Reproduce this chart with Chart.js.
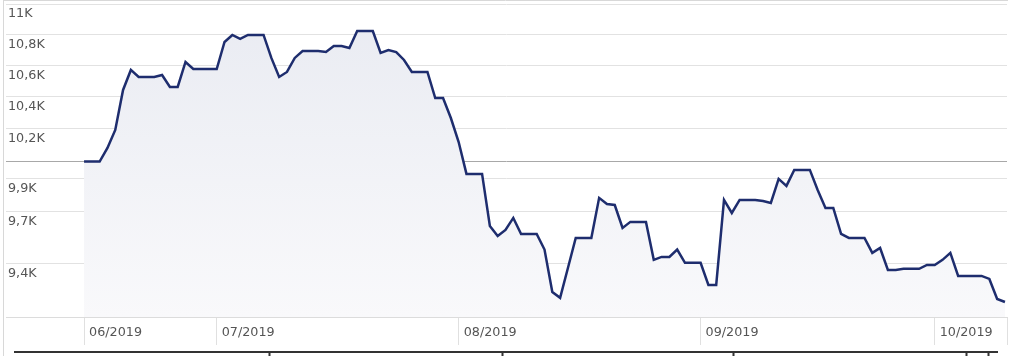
<!DOCTYPE html>
<html>
<head>
<meta charset="utf-8">
<script src="https://cdn.jsdelivr.net/npm/chart.js@4/dist/chart.umd.min.js"></script>
<style>
  html, body { margin: 0; padding: 0; background: #ffffff; }
  #wrap { width: 1010px; height: 356px; }
</style>
</head>
<body>
<div id="wrap"><canvas id="c" width="1010" height="356"></canvas></div>
<script>
// ---- data (daily values, 14 June 2019 .. 10 October 2019) ----
const startDate = '2019-06-14';
const values = [
  10000, 10000, 10000, 10083, 10193, 10443, 10570, 10525, 10525, 10525,
  10538, 10462, 10462, 10621, 10576, 10576, 10576, 10576, 10750, 10796,
  10770, 10796, 10796, 10796, 10647, 10525, 10557, 10647, 10692, 10692,
  10692, 10685, 10724, 10724, 10711, 10822, 10822, 10822, 10679, 10698,
  10685, 10634, 10557, 10557, 10557, 10392, 10392, 10267, 10119, 9926,
  9926, 9926, 9618, 9560, 9595, 9665, 9572, 9572, 9572, 9482,
  9242, 9209, 9377, 9549, 9549, 9549, 9783, 9747, 9741, 9607,
  9642, 9642, 9642, 9423, 9440, 9440, 9482, 9406, 9406, 9406,
  9281, 9281, 9771, 9694, 9771, 9771, 9771, 9765, 9753, 9896,
  9854, 9950, 9950, 9950, 9830, 9724, 9724, 9572, 9549, 9549,
  9549, 9463, 9491, 9366, 9366, 9372, 9372, 9372, 9394, 9394,
  9423, 9463, 9332, 9332, 9332, 9332, 9315, 9203, 9186
];
const xTickDates  = ['2019-06-14', '2019-07-01', '2019-08-01', '2019-09-01', '2019-10-01'];
const xTickLabels = ['06/2019', '07/2019', '08/2019', '09/2019', '10/2019'];
const yTickValues = [9400, 9700, 9900, 10200, 10400, 10600, 10800, 11000];
const yTickLabels = ['9,4K', '9,7K', '9,9K', '10,2K', '10,4K', '10,6K', '10,8K', '11K'];
const baseValue = 10000;
const yMin = 9103, yMax = 11000;

// ---- helpers ----
const DAY = 86400000;
const dayIndex = d => Math.round((Date.parse(d) - Date.parse(startDate)) / DAY);
const xTickPos = xTickDates.map(dayIndex);
const points = values.map((v, i) => ({ x: i, y: v }));
const xMin = -10, xMax = values.length - 1 + 0.26;

const FONT = { family: "'DejaVu Sans', Verdana, sans-serif", size: 12.75 };
const TEXT = '#555555';

const decor = {
  id: 'decor',
  afterDraw(chart) {
    const ctx = chart.ctx;
    ctx.save();
    // outer frame (left + top)
    ctx.strokeStyle = '#d8d8d8';
    ctx.lineWidth = 1;
    ctx.beginPath();
    ctx.moveTo(3.5, 0); ctx.lineTo(3.5, 356);
    ctx.moveTo(3, 0.5); ctx.lineTo(1008, 0.5);
    ctx.stroke();
    // navigator edge at the bottom
    ctx.strokeStyle = '#333333';
    ctx.lineWidth = 2;
    ctx.beginPath();
    ctx.moveTo(14, 352); ctx.lineTo(998, 352);
    [269.5, 502.5, 733.5, 966.5, 988.5].forEach(x => { ctx.moveTo(x, 352); ctx.lineTo(x, 356); });
    ctx.stroke();
    ctx.restore();
  }
};

new Chart(document.getElementById('c'), {
  type: 'line',
  data: {
    datasets: [{
      data: points,
      borderColor: '#1e2d6e',
      borderWidth: 2.5,
      pointRadius: 0,
      pointHoverRadius: 0,
      tension: 0,
      fill: 'start',
      backgroundColor: (ctx) => {
        const ca = ctx.chart.chartArea;
        if (!ca) return '#eef0f5';
        const g = ctx.chart.ctx.createLinearGradient(0, ca.top, 0, ca.bottom);
        g.addColorStop(0, '#e9ebf2');
        g.addColorStop(1, '#f9f9fb');
        return g;
      }
    }]
  },
  options: {
    responsive: false,
    animation: false,
    devicePixelRatio: 1,
    layout: { padding: { left: 6, top: 4, right: 3, bottom: 0 } },
    plugins: { legend: { display: false }, tooltip: { enabled: false } },
    scales: {
      x: {
        type: 'linear',
        min: xMin,
        max: xMax,
        afterBuildTicks: s => { s.ticks = xTickPos.concat([xMax]).map(v => ({ value: v })); },
        afterFit: s => { s.height = 39; s.paddingLeft = 0; s.paddingRight = 0; },
        grid: { drawOnChartArea: false, drawTicks: true, tickLength: 28, color: '#e0e0e0', lineWidth: 1 },
        border: { display: true, color: '#dcdcdc', width: 1 },
        ticks: {
          autoSkip: false,
          maxRotation: 0,
          align: 'start',
          labelOffset: 5,
          padding: -20,
          color: TEXT,
          font: FONT,
          callback: v => { const k = xTickPos.indexOf(v); return k >= 0 ? xTickLabels[k] : ''; }
        }
      },
      y: {
        type: 'logarithmic',
        min: yMin,
        max: yMax,
        afterBuildTicks: s => { s.ticks = yTickValues.concat([baseValue]).sort((a, b) => a - b).map(v => ({ value: v })); },
        afterFit: s => { s.width = 0; s.paddingTop = 0; s.paddingBottom = 0; },
        grid: {
          drawTicks: false,
          color: c => (c.tick && c.tick.value === baseValue) ? '#a8a8a8' : '#e2e2e2',
          lineWidth: 1
        },
        border: { display: false },
        ticks: {
          mirror: true,
          padding: 2,
          labelOffset: 10,
          color: TEXT,
          font: FONT,
          callback: v => { const k = yTickValues.indexOf(v); return k >= 0 ? yTickLabels[k] : ''; }
        }
      }
    }
  },
  plugins: [decor]
});
</script>
</body>
</html>
